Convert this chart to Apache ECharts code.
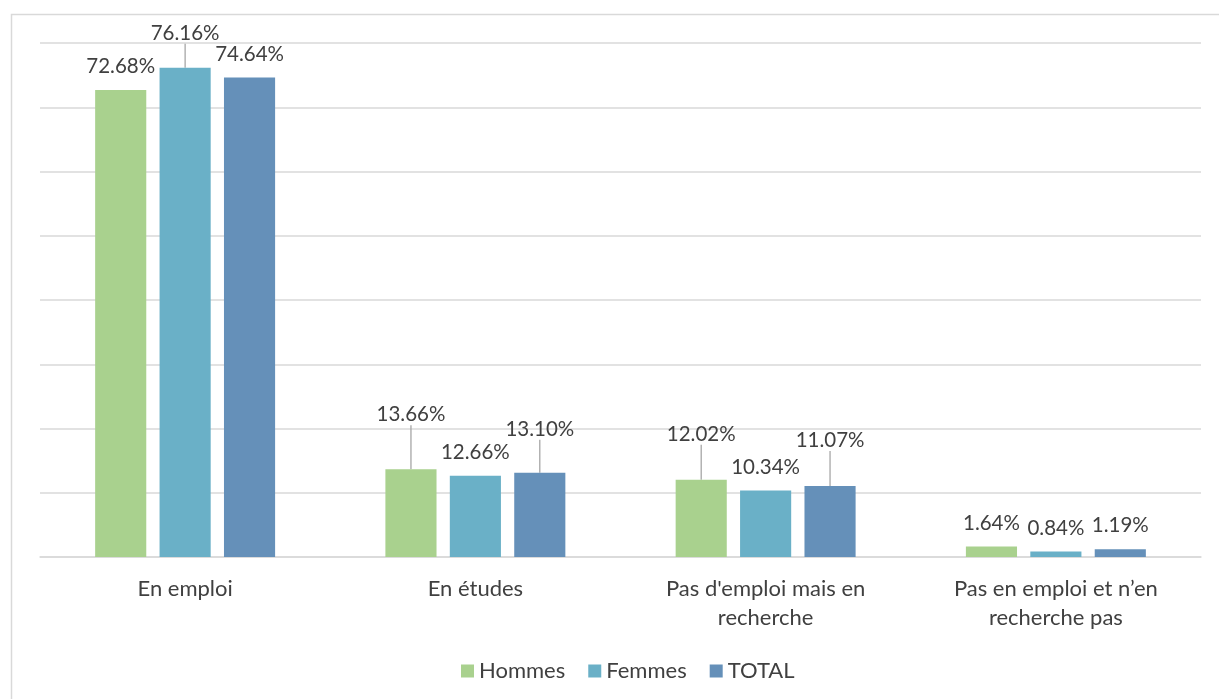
<!DOCTYPE html>
<html>
<head>
<meta charset="utf-8">
<script src="https://cdn.jsdelivr.net/npm/echarts@6/dist/echarts.min.js"></script>
<style>
  html, body { margin: 0; padding: 0; background: #fff; }
  #chart { width: 1219px; height: 699px; }
</style>
</head>
<body>
<div id="chart"></div>
<script>
// Situation par catégorie, en pourcentage
const categories = [
  'En emploi',
  'En études',
  "Pas d'emploi mais en\nrecherche",
  'Pas en emploi et n’en\nrecherche pas'
];
const seriesNames = ['Hommes', 'Femmes', 'TOTAL'];
const hommes = [72.68, 13.66, 12.02, 1.64];
const femmes = [76.16, 12.66, 10.34, 0.84];
const total = [74.64, 13.10, 11.07, 1.19];

const colors = ['#A9D18E', '#6AB0C7', '#6590B9'];
const fontFamily = 'Lato, "Open Sans", sans-serif';
const textColor = '#404040';

// Extra upward shift (px) for labels pulled away from their bar, with a leader line
const labelLift = [
  [0, 31, 22, 0],
  [11, 0, 0, 0],
  [0, 20, 22, 0]
];

const values = [hommes, femmes, total];

const chart = echarts.init(document.getElementById('chart'));

const series = values.map((vals, si) => ({
  name: seriesNames[si],
  type: 'bar',
  data: vals.map((v, i) => ({
    value: v,
    labelLine: { show: labelLift[si][i] > 0 }
  })),
  barGap: '26%',
  barCategoryGap: '38%',
  itemStyle: { color: colors[si] },
  label: {
    show: true,
    position: 'top',
    distance: 4,
    padding: [0, 2, 9, 2],
    color: textColor,
    fontSize: 20.5,
    fontFamily: fontFamily,
    formatter: p => p.value.toFixed(2) + '%'
  },
  labelLine: {
    show: false,
    lineStyle: { color: '#A6A6A6', width: 1.3 }
  },
  labelLayout: p => ({ dy: -labelLift[si][p.dataIndex] }),
  emphasis: { disabled: true }
}));

chart.setOption({
  animation: false,
  backgroundColor: '#fff',
  graphic: [{
    type: 'rect',
    shape: { x: 11.5, y: 14.5, width: 1400, height: 900 },
    style: { fill: 'none', stroke: '#D9D9D9', lineWidth: 1.5 },
    silent: true,
    z: -1
  }],
  grid: { left: 40, right: 18, top: 43, bottom: 142 },
  legend: {
    data: seriesNames,
    bottom: 12,
    left: 456,
    itemWidth: 13,
    itemHeight: 13,
    itemGap: 23,
    icon: 'rect',
    textStyle: { color: textColor, fontSize: 22, fontFamily: fontFamily }
  },
  xAxis: {
    type: 'category',
    data: categories,
    axisLine: { lineStyle: { color: '#D9D9D9', width: 1.5 } },
    axisTick: { show: false },
    axisLabel: {
      color: textColor,
      fontSize: 22,
      fontFamily: fontFamily,
      margin: 17,
      lineHeight: 29
    }
  },
  yAxis: {
    type: 'value',
    min: 0,
    max: 80,
    interval: 10,
    axisLabel: { show: false },
    axisLine: { show: false },
    axisTick: { show: false },
    splitLine: { lineStyle: { color: '#D9D9D9', width: 1.5 } }
  },
  series: series
});
</script>
</body>
</html>
